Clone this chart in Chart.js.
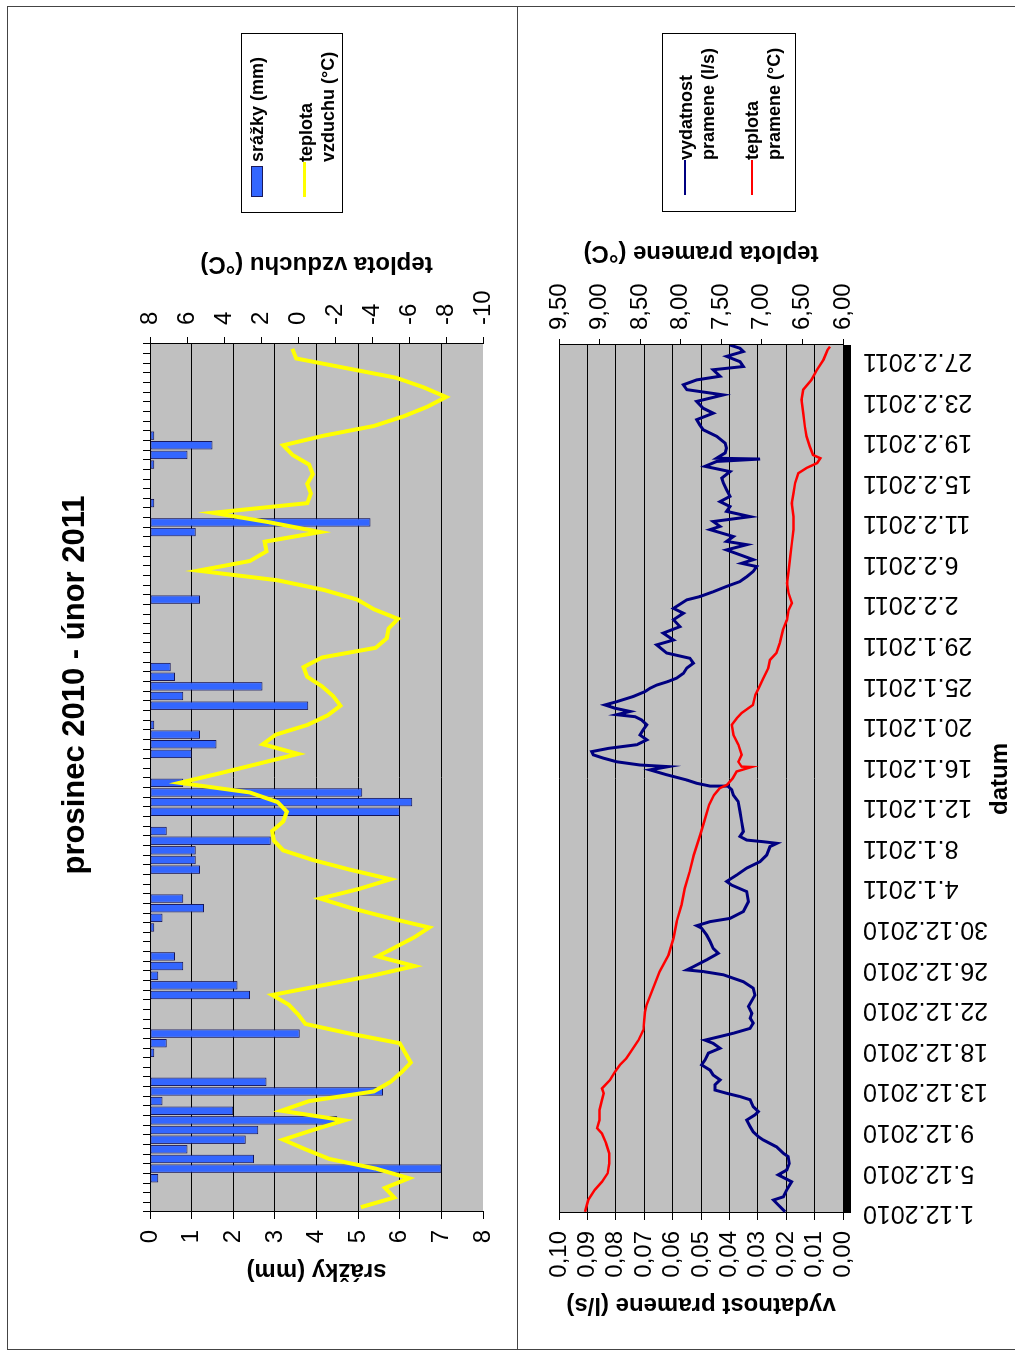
<!DOCTYPE html>
<html>
<head>
<meta charset="utf-8">
<script src="https://cdn.jsdelivr.net/npm/chart.js@4.4.1/dist/chart.umd.min.js"></script>
<style>
html, body { margin:0; padding:0; background:#fff; width:1015px; height:1356px; overflow:hidden; }
#sheet { position:absolute; left:0; top:0; width:1356px; height:1015px; transform-origin:0 0;
         transform: translate(0, 1356px) rotate(-90deg); font-family:'Liberation Sans', Arial, sans-serif; }
canvas { position:absolute; left:0; }
#cTop { top:0; }
#cBottom { top:517px; }
.frame { position:absolute; box-sizing:border-box; border:1px solid #444; }
.legend { position:absolute; box-sizing:border-box; border:1px solid #000; background:#fff;
          font-weight:bold; font-size:18px; line-height:22px; color:#000; }
.legend .txt { position:absolute; white-space:nowrap; }
.legend .key { position:absolute; box-sizing:border-box; }
</style>
</head>
<body>
<div id="sheet">
  <div class="frame" style="left:6px; top:7px; width:1344px; height:511px;"></div>
  <div class="frame" style="left:6px; top:517px; width:1344px; height:520px;"></div>
  <canvas id="cTop" width="1356" height="517"></canvas>
  <canvas id="cBottom" width="1356" height="498"></canvas>

  <div class="legend" style="left:1143px; top:241px; width:180px; height:102px;">
    <div class="key" style="left:15px; top:9px; width:31px; height:12px; background:#3366FF; border:1px solid #1a1a5a;"></div>
    <div class="txt" style="left:50px; top:4px;">srážky (mm)</div>
    <div class="key" style="left:15px; top:61px; width:35px; height:3px; background:#FFFF00;"></div>
    <div class="txt" style="left:50px; top:53px;">teplota<br>vzduchu (°C)</div>
  </div>

  <div class="legend" style="left:1144px; top:662px; width:179px; height:134px;">
    <div class="key" style="left:16px; top:21px; width:35px; height:2px; background:#000080;"></div>
    <div class="txt" style="left:51px; top:12px;">vydatnost<br>pramene (l/s)</div>
    <div class="key" style="left:16px; top:88px; width:35px; height:2px; background:#FF0000;"></div>
    <div class="txt" style="left:51px; top:78px;">teplota<br>pramene (°C)</div>
  </div>
</div>

<script>
// daily categories 1.12.2010 - 28.2.2011
const days = [];
for (const d = new Date(2010, 11, 1); d <= new Date(2011, 1, 28); d.setDate(d.getDate() + 1)) {
    days.push(d.getDate() + '.' + (d.getMonth() + 1) + '.' + d.getFullYear());
}

// precipitation (mm), one per day
const rain = [
    0, 0, 0, 0.2, 7.0, 2.5, 0.9, 2.3, 2.6, 4.5,
    2.0, 0.3, 5.6, 2.8, 0, 0, 0.1, 0.4, 3.6, 0,
    0, 0, 2.4, 2.1, 0.2, 0.8, 0.6, 0, 0, 0.1,
    0.3, 1.3, 0.8, 0, 0, 1.2, 1.1, 1.1, 2.9, 0.4,
    0, 6.0, 6.3, 5.1, 0.8, 0, 0, 1.0, 1.6, 1.2,
    0.1, 0, 3.8, 0.8, 2.7, 0.6, 0.5, 0, 0, 0,
    0, 0, 0, 1.2, 0, 0, 0, 0, 0, 0,
    1.1, 5.3, 0, 0.1, 0, 0, 0, 0.1, 0.9, 1.5,
    0.1, 0, 0, 0, 0, 0, 0, 0, 0, 0
];

// air temperature (°C), one per day
const airTemp = [
    -3.4, -5.2, -4.7, -6.0, -4.2, -1.7, -0.4, 0.8, -0.8, -2.5,
    0.9, -0.6, -4.1, -5.0, -5.6, -6.1, -5.8, -5.5, -2.8, -0.4,
    0.0, 0.5, 1.4, -1.3, -4.0, -6.3, -4.3, -5.3, -6.3, -7.1,
    -4.9, -2.9, -1.2, -3.3, -5.0, -2.8, -0.8, 0.8, 1.3, 1.4,
    0.8, 0.6, 1.1, 2.6, 6.4, 4.2, 2.1, 0.0, 1.9, 1.2,
    -0.5, -1.6, -2.3, -1.9, -1.3, -0.5, -0.3, -1.3, -4.2, -4.8,
    -4.9, -5.4, -4.1, -3.2, -1.4, 1.1, 5.4, 2.6, 1.7, 1.8,
    -1.2, 1.5, 4.6, -0.5, -0.7, -0.5, -0.8, -0.6, 0.3, 0.8,
    -1.4, -4.1, -5.7, -7.0, -8.0, -6.8, -5.3, -2.6, 0.1, 0.3
];

// lower chart: date tick labels, positions are measured in tick intervals
const dateTicks = ['1.12.2010', '5.12.2010', '9.12.2010', '13.12.2010', '18.12.2010', '22.12.2010',
    '26.12.2010', '30.12.2010', '4.1.2011', '8.1.2011', '12.1.2011', '16.1.2011', '20.1.2011',
    '25.1.2011', '29.1.2011', '2.2.2011', '6.2.2011', '11.2.2011', '15.2.2011', '19.2.2011',
    '23.2.2011', '27.2.2011'];
const xEnd = 21.39;

// spring yield (l/s)
const flowPos = [
    0.03, 0.20, 0.32, 0.40, 0.57, 0.77, 0.94, 1.06, 1.22, 1.39, 1.47, 1.63, 1.80, 1.88, 2.00, 2.13, 2.29, 2.42,
    2.50, 2.62, 2.79, 2.87, 2.95, 3.03, 3.16, 3.28, 3.40, 3.52, 3.65, 3.77, 3.94, 4.06, 4.18, 4.26, 4.35, 4.43,
    4.55, 4.68, 4.80, 4.92, 5.09, 5.37, 5.54, 5.70, 5.87, 5.95, 5.99, 6.07, 6.24, 6.40, 6.52, 6.69, 6.85, 7.02,
    7.08, 7.18, 7.26, 7.43, 7.67, 7.92, 8.08, 8.17, 8.33, 8.50, 8.66, 8.82, 9.03, 9.11, 9.15, 9.19, 9.28, 9.40,
    9.65, 9.89, 10.14, 10.30, 10.43, 10.51, 10.52, 10.59, 10.67, 10.80, 10.92, 11.00, 11.04, 11.12, 11.21, 11.29,
    11.37, 11.45, 11.54, 11.66, 11.78, 11.91, 12.03, 12.15, 12.23, 12.28, 12.36, 12.44, 12.52, 12.60, 12.73,
    12.85, 12.93, 13.01, 13.10, 13.18, 13.30, 13.43, 13.55, 13.67, 13.80, 14.00, 14.12, 14.29, 14.45, 14.62,
    14.78, 14.90, 15.11, 15.19, 15.31, 15.44, 15.56, 15.68, 15.81, 15.93, 16.01, 16.10, 16.22, 16.34, 16.47,
    16.55, 16.67, 16.84, 16.92, 17.04, 17.16, 17.29, 17.41, 17.53, 17.66, 17.82, 17.99, 18.11, 18.27, 18.40,
    18.52, 18.58, 18.60, 18.73, 18.85, 18.97, 19.14, 19.30, 19.42, 19.55, 19.71, 19.83, 20.00, 20.16, 20.29,
    20.41, 20.53, 20.62, 20.78, 20.86, 20.98, 21.11, 21.23, 21.31, 21.39
];
const flow = [
    0.0204, 0.0228, 0.0245, 0.0210, 0.0198, 0.0181, 0.0228, 0.0198, 0.0189, 0.0193, 0.0210, 0.0234, 0.0281, 0.0298, 0.0316, 0.0327, 0.0339, 0.0310,
    0.0298, 0.0316, 0.0327, 0.0363, 0.0410, 0.0451, 0.0451, 0.0433, 0.0457, 0.0468, 0.0498, 0.0486, 0.0474, 0.0433, 0.0457, 0.0486, 0.0433, 0.0386,
    0.0327, 0.0316, 0.0327, 0.0321, 0.0333, 0.0310, 0.0316, 0.0351, 0.0421, 0.0492, 0.0550, 0.0527, 0.0480, 0.0439, 0.0457, 0.0468, 0.0480, 0.0498,
    0.0515, 0.0468, 0.0398, 0.0351, 0.0333, 0.0339, 0.0392, 0.0410, 0.0374, 0.0339, 0.0292, 0.0269, 0.0257, 0.0233, 0.0281, 0.0339, 0.0363, 0.0351,
    0.0357, 0.0363, 0.0369, 0.0386, 0.0392, 0.0404, 0.0468, 0.0515, 0.0550, 0.0621, 0.0680, 0.0615, 0.0715, 0.0797, 0.0844, 0.0879,
    0.0885, 0.0826, 0.0726, 0.0691, 0.0715, 0.0703, 0.0691, 0.0709, 0.0732, 0.0797, 0.0750, 0.0803, 0.0838, 0.0797, 0.0738,
    0.0697, 0.0680, 0.0656, 0.0615, 0.0586, 0.0562, 0.0550, 0.0527, 0.0539, 0.0621, 0.0656, 0.0597, 0.0633, 0.0574, 0.0597,
    0.0562, 0.0597, 0.0550, 0.0504, 0.0457, 0.0410, 0.0363, 0.0339, 0.0316, 0.0304, 0.0357, 0.0316, 0.0363, 0.0410, 0.0339,
    0.0410, 0.0386, 0.0468, 0.0433, 0.0457, 0.0327, 0.0410, 0.0398, 0.0433, 0.0398, 0.0410, 0.0421, 0.0427, 0.0398, 0.0486,
    0.0445, 0.0292, 0.0445, 0.0415, 0.0410, 0.0415, 0.0445, 0.0492, 0.0504, 0.0515, 0.0457, 0.0492, 0.0515, 0.0421, 0.0550,
    0.0562, 0.0515, 0.0433, 0.0457, 0.0351, 0.0363, 0.0410, 0.0351, 0.0363, 0.0398
];

// spring water temperature (°C)
const springPos = [
    0.03, 0.32, 0.57, 0.77, 0.98, 1.22, 1.47, 1.72, 1.96, 2.09, 2.29, 2.54, 2.79, 2.95, 3.07, 3.28, 3.48, 3.65,
    3.81, 4.02, 4.26, 4.51, 4.76, 4.96, 5.13, 5.54, 5.95, 6.36, 6.77, 7.18, 7.59, 8.00, 8.41, 8.82, 9.07, 9.32,
    9.65, 10.06, 10.30, 10.47, 10.55, 10.71, 10.88, 10.99, 11.00, 11.12, 11.29, 11.54, 11.78, 12.03, 12.19, 12.32,
    12.52, 12.77, 12.93, 13.18, 13.43, 13.63, 13.80, 14.04, 14.37, 14.62, 14.86, 15.03, 15.27, 15.52, 15.85, 16.18,
    16.51, 16.84, 17.16, 17.49, 17.74, 17.99, 18.23, 18.36, 18.48, 18.60, 18.68, 18.89, 19.14, 19.38, 19.71, 20.04,
    20.29, 20.53, 20.78, 21.03, 21.27, 21.35
];
const springTemp = [
    9.18, 9.14, 9.06, 8.97, 8.90, 8.88, 8.88, 8.92, 8.97, 9.03, 9.00, 9.00, 8.97, 8.95, 8.97, 8.87, 8.81, 8.75,
    8.67, 8.60, 8.52, 8.46, 8.45, 8.44, 8.42, 8.34, 8.26, 8.15, 8.09, 8.05, 7.99, 7.95, 7.89, 7.84, 7.80, 7.76,
    7.71, 7.65, 7.59, 7.52, 7.43, 7.36, 7.31, 7.13, 7.25, 7.29, 7.25, 7.29, 7.35, 7.37, 7.31, 7.25,
    7.11, 7.08, 7.04, 6.98, 6.92, 6.90, 6.82, 6.78, 6.74, 6.69, 6.67, 6.63, 6.67, 6.69, 6.67, 6.65,
    6.63, 6.61, 6.61, 6.63, 6.61, 6.59, 6.55, 6.45, 6.32, 6.28, 6.37, 6.41, 6.45, 6.47, 6.49, 6.51,
    6.49, 6.39, 6.32, 6.24, 6.19, 6.16
];

Chart.defaults.font.family = "'Liberation Sans', Arial, sans-serif";
Chart.defaults.font.size = 24;
Chart.defaults.color = '#000';

// grey plot area like the excel original
const plotBg = {
    id: 'plotBg',
    beforeDraw(chart, args, opts) {
        const { ctx, chartArea: a } = chart;
        ctx.save();
        ctx.fillStyle = opts.color;
        ctx.fillRect(a.left, a.top, a.width, a.height);
        ctx.restore();
    }
};

// right axis title reads bottom-to-top like the left one
const sideTitle = {
    id: 'sideTitle',
    afterDraw(chart, args, opts) {
        const s = chart.scales.y1, ctx = chart.ctx;
        ctx.save();
        ctx.font = "bold 24px 'Liberation Sans', Arial, sans-serif";
        ctx.fillStyle = '#000';
        ctx.textAlign = 'center';
        ctx.textBaseline = 'middle';
        ctx.translate(s.left + opts.offset, (s.top + s.bottom) / 2);
        ctx.rotate(-Math.PI / 2);
        ctx.fillText(opts.text, 0, 0);
        ctx.restore();
    }
};

// thick black category axis under the lower plot
const axisBar = {
    id: 'axisBar',
    afterDraw(chart, args, opts) {
        const { ctx, chartArea: a } = chart;
        ctx.save();
        ctx.fillStyle = '#000';
        ctx.fillRect(a.left, a.bottom, a.width, opts.width);
        ctx.restore();
    }
};

const comma = v => v.toFixed(2).replace('.', ',');

new Chart(document.getElementById('cTop'), {
    type: 'bar',
    data: {
        labels: days,
        datasets: [{
            type: 'line',
            label: 'teplota vzduchu (°C)',
            data: airTemp,
            yAxisID: 'y1',
            borderColor: '#FFFF00',
            borderWidth: 4,
            pointRadius: 0,
            tension: 0,
            order: 0
        }, {
            label: 'srážky (mm)',
            data: rain,
            yAxisID: 'y',
            backgroundColor: '#3366FF',
            borderColor: '#14145a',
            borderWidth: c => (c.raw > 0 ? 1 : 0),
            borderSkipped: false,
            barPercentage: 1,
            categoryPercentage: 0.88,
            order: 1
        }]
    },
    options: {
        responsive: false,
        animation: false,
        events: [],
        layout: { padding: { left: 0, right: 14, top: 0, bottom: 34 } },
        plugins: {
            legend: { display: false },
            tooltip: { enabled: false },
            title: {
                display: true,
                text: 'prosinec 2010 - únor 2011',
                color: '#000',
                font: { size: 31, weight: 'bold' },
                padding: { top: 57, bottom: 10 }
            },
            plotBg: { color: '#C0C0C0' },
            sideTitle: { text: 'teplota vzduchu (°C)', offset: 80.5 }
        },
        scales: {
            x: {
                position: 'top',
                grid: { display: true, offset: true, drawOnChartArea: false, tickLength: 7, color: '#000' },
                border: { color: '#000' },
                ticks: { display: false, autoSkip: false },
                afterFit: s => { s.height = 45.8; }
            },
            y: {
                position: 'left',
                reverse: true,
                min: 0,
                max: 8,
                ticks: { stepSize: 1, padding: 11, autoSkip: false },
                grid: { color: c => (c.tick && c.tick.value === 8 ? 'rgba(0,0,0,0)' : '#000'), tickColor: '#000', tickLength: 7 },
                border: { color: '#000' },
                title: { display: true, text: 'srážky (mm)', font: { size: 24, weight: 'bold' }, padding: { top: 71, bottom: 0 } },
                afterFit: s => { s.width = 144; }
            },
            y1: {
                position: 'right',
                min: -10,
                max: 8,
                ticks: { stepSize: 2, padding: 12, autoSkip: false },
                grid: { drawOnChartArea: false, tickLength: 7, tickColor: '#000' },
                border: { color: '#000' },
                afterFit: s => { s.width = 330; }
            }
        }
    },
    plugins: [plotBg, sideTitle]
});

new Chart(document.getElementById('cBottom'), {
    type: 'line',
    data: {
        datasets: [{
            label: 'teplota pramene (°C)',
            data: springPos.map((x, i) => ({ x: x, y: springTemp[i] })),
            yAxisID: 'y1',
            borderColor: '#FF0000',
            borderWidth: 2.5,
            pointRadius: 0,
            tension: 0,
            order: 0
        }, {
            label: 'vydatnost pramene (l/s)',
            data: flowPos.map((x, i) => ({ x: x, y: flow[i] })),
            yAxisID: 'y',
            borderColor: '#000080',
            borderWidth: 3,
            pointRadius: 0,
            tension: 0,
            order: 1
        }]
    },
    options: {
        responsive: false,
        animation: false,
        events: [],
        layout: { padding: { left: 0, right: 0, top: 42, bottom: 0 } },
        plugins: {
            legend: { display: false },
            tooltip: { enabled: false },
            plotBg: { color: '#C0C0C0' },
            sideTitle: { text: 'teplota pramene (°C)', offset: 92 },
            axisBar: { width: 8 }
        },
        scales: {
            x: {
                type: 'linear',
                min: 0,
                max: xEnd,
                grid: { display: false, drawTicks: false },
                border: { display: false },
                ticks: {
                    stepSize: 1,
                    includeBounds: false,
                    autoSkip: false,
                    minRotation: 90,
                    maxRotation: 90,
                    padding: 20,
                    font: { size: 25 },
                    callback: v => dateTicks[Math.round(v)] || ''
                },
                title: { display: true, text: 'datum', font: { size: 24, weight: 'bold' }, padding: { top: 0, bottom: 0 } },
                afterFit: s => { s.height = 172; }
            },
            y: {
                position: 'left',
                min: 0,
                max: 0.1,
                ticks: { stepSize: 0.01, padding: 11, autoSkip: false, callback: comma },
                grid: { color: '#000', tickColor: '#000', tickLength: 7 },
                border: { color: '#000' },
                title: { display: true, text: 'vydatnost pramene (l/s)', font: { size: 24, weight: 'bold' }, padding: { top: 37, bottom: 0 } },
                afterFit: s => { s.width = 143; }
            },
            y1: {
                position: 'right',
                min: 6,
                max: 9.5,
                ticks: { stepSize: 0.5, padding: 9, autoSkip: false, callback: comma },
                grid: { drawOnChartArea: false, tickLength: 6, tickColor: '#000' },
                border: { color: '#000' },
                afterFit: s => { s.width = 345; }
            }
        }
    },
    plugins: [plotBg, sideTitle, axisBar]
});
</script>
</body>
</html>
